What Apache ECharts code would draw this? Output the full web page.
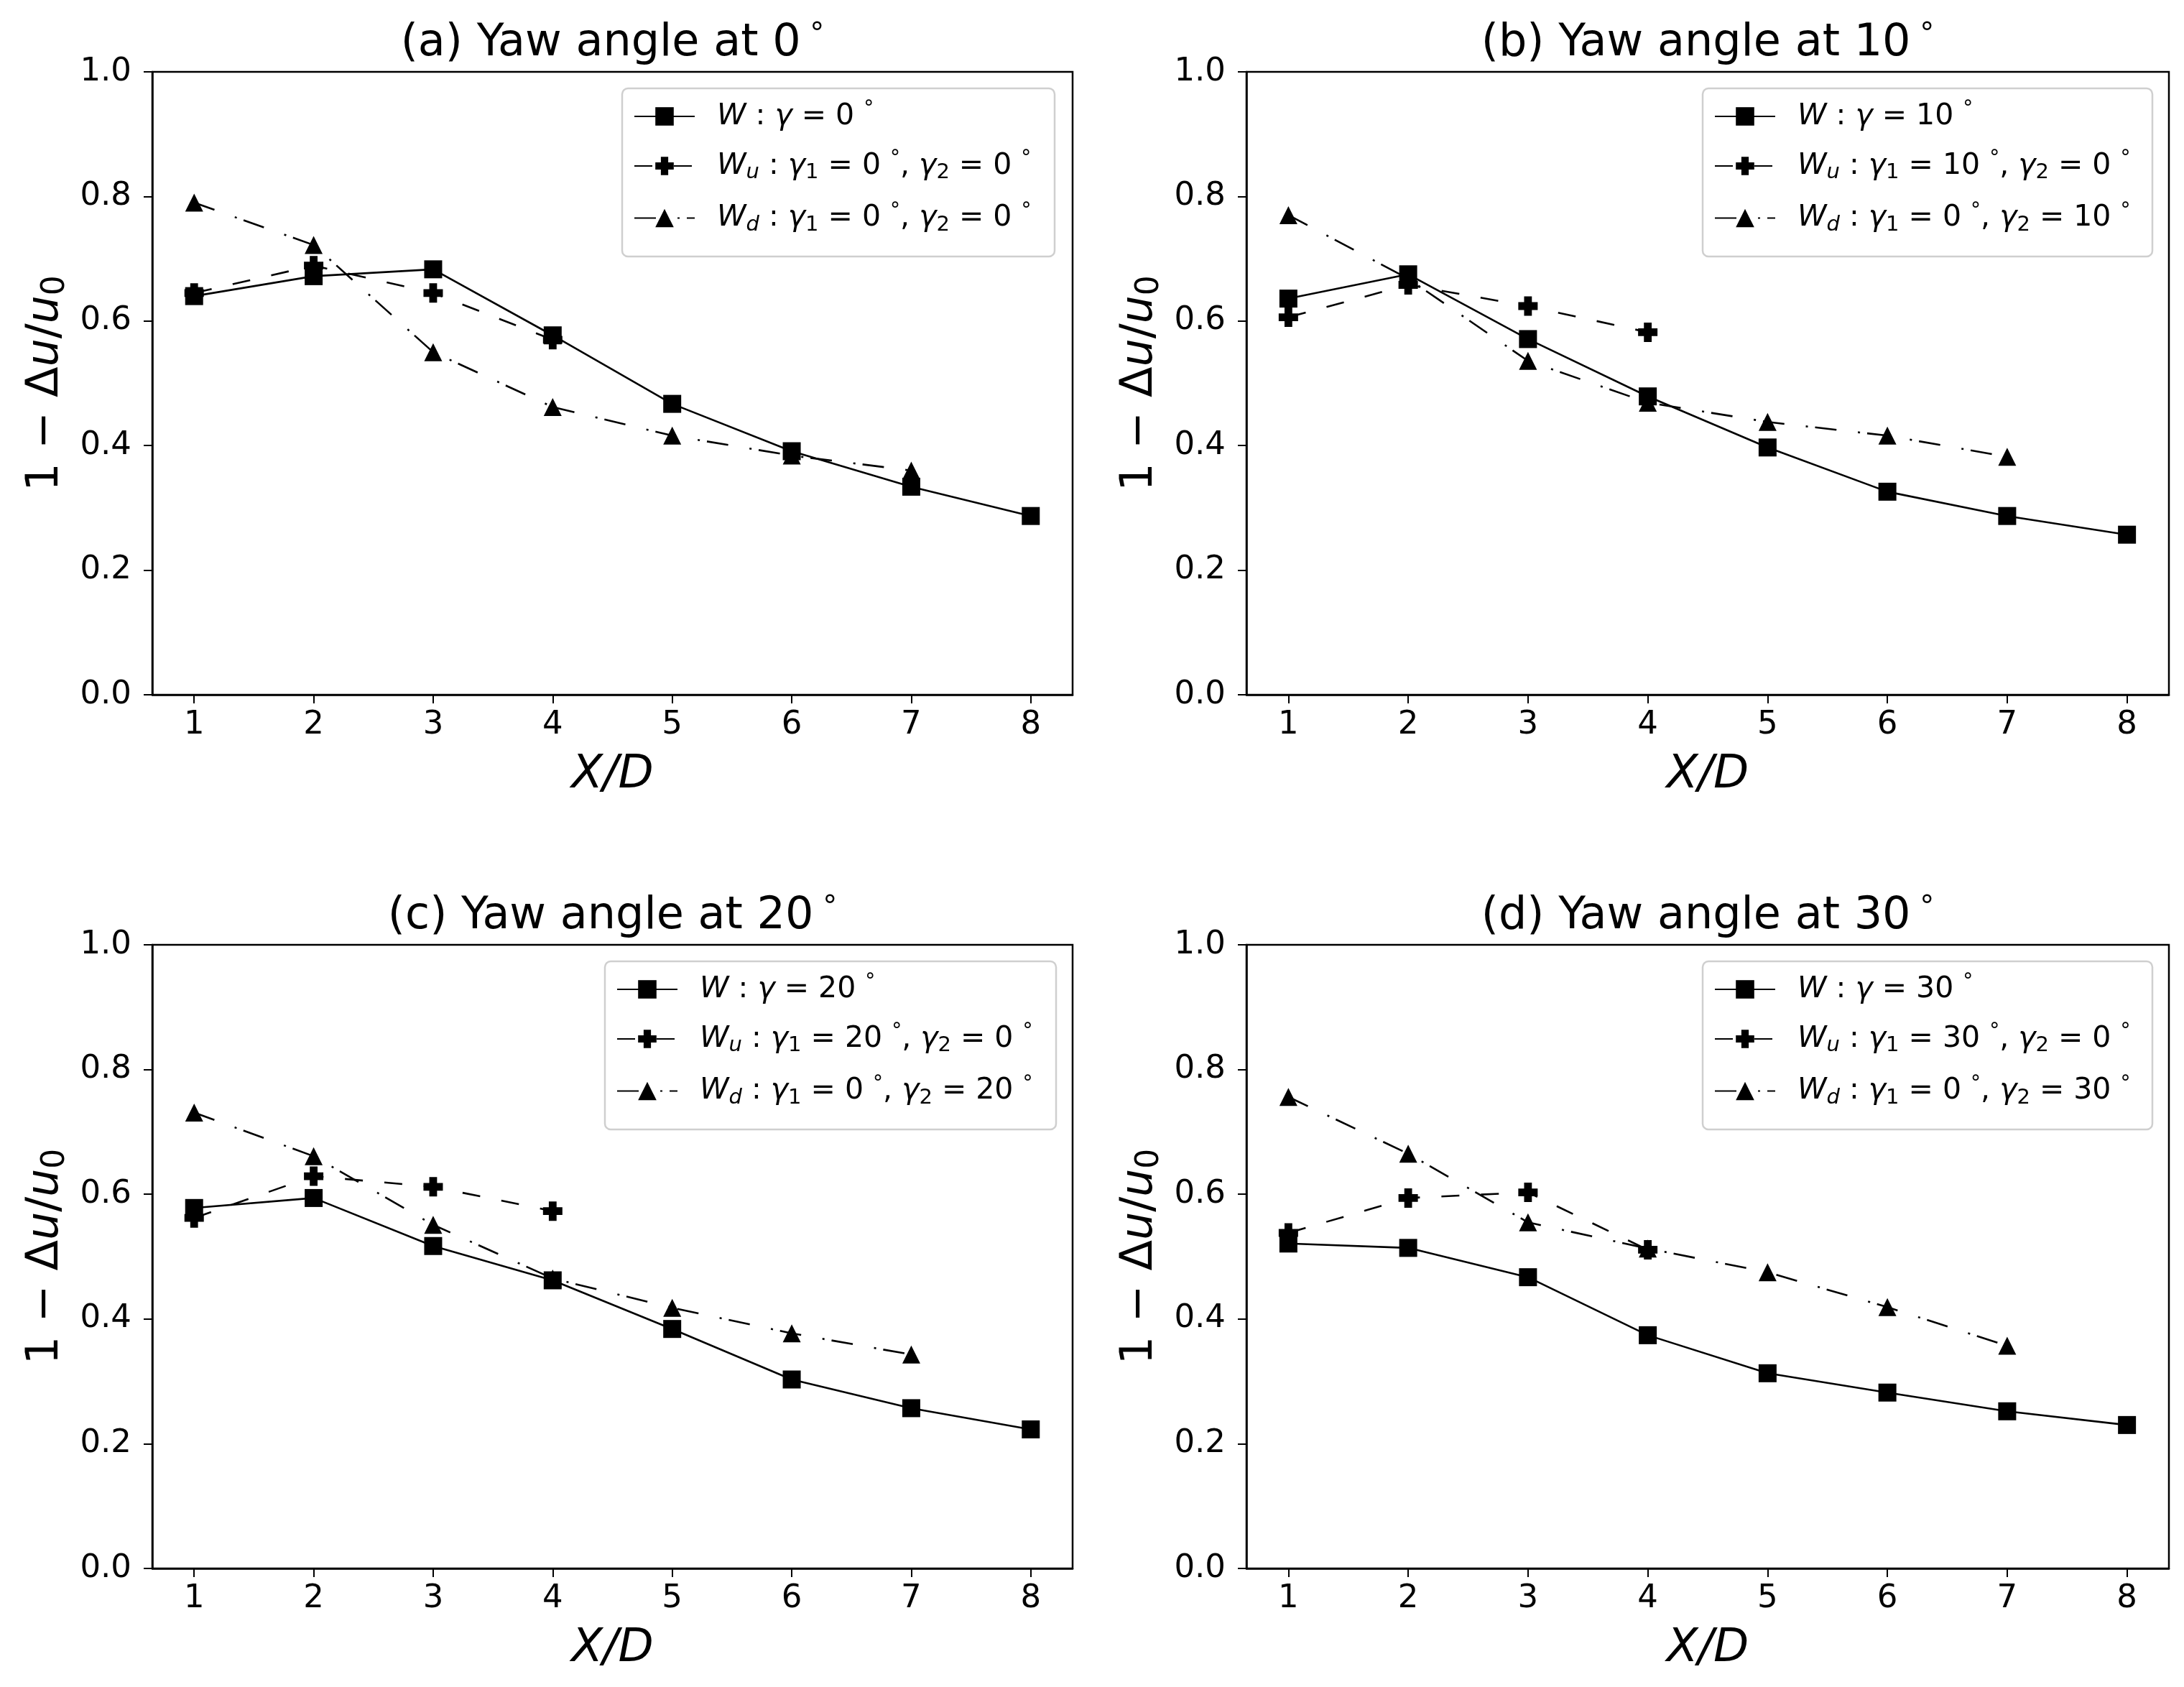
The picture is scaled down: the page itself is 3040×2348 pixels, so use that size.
<!DOCTYPE html>
<html><head><meta charset="utf-8">
<script src="https://cdn.jsdelivr.net/npm/echarts@6/dist/echarts.min.js"></script>
<style>html,body{margin:0;padding:0;background:#fff}#c{width:3040px;height:2348px}</style>
</head><body><div id="c"></div>
<script>
// ---------------- data ----------------
const xPositions = [1, 2, 3, 4, 5, 6, 7, 8];
const xTickLabels = ['1', '2', '3', '4', '5', '6', '7', '8'];
const yTickValues = [0.0, 0.2, 0.4, 0.6, 0.8, 1.0];
const panelLetters = ['a', 'b', 'c', 'd'];
const yawAngles = [0, 10, 20, 30];

const a_W  = [0.640, 0.672, 0.683, 0.577, 0.467, 0.391, 0.334, 0.287];
const a_Wu = [0.645, 0.689, 0.645, 0.570];
const a_Wd = [0.790, 0.722, 0.550, 0.462, 0.416, 0.384, 0.360];

const b_W  = [0.636, 0.675, 0.571, 0.479, 0.397, 0.326, 0.287, 0.257];
const b_Wu = [0.606, 0.658, 0.624, 0.582];
const b_Wd = [0.770, 0.668, 0.536, 0.469, 0.438, 0.416, 0.382];

const c_W  = [0.578, 0.594, 0.517, 0.462, 0.384, 0.303, 0.257, 0.223];
const c_Wu = [0.562, 0.629, 0.612, 0.573];
const c_Wd = [0.731, 0.661, 0.551, 0.465, 0.418, 0.377, 0.343];

const d_W  = [0.521, 0.514, 0.467, 0.374, 0.313, 0.282, 0.252, 0.230];
const d_Wu = [0.538, 0.594, 0.603, 0.511];
const d_Wd = [0.756, 0.665, 0.555, 0.513, 0.475, 0.419, 0.357];

const panelData = [[a_W, a_Wu, a_Wd], [b_W, b_Wu, b_Wd], [c_W, c_Wu, c_Wd], [d_W, d_Wu, d_Wd]];

// ---------------- layout / style ----------------
const F = 'DejaVu Sans';
const grids = [
  {left: 212, top: 100, width: 1281, height: 867},
  {left: 1735, top: 100, width: 1284, height: 867},
  {left: 212, top: 1315, width: 1281, height: 868},
  {left: 1735, top: 1315, width: 1284, height: 868}
];
const legendBoxes = [
  {x: 866, y: 123, w: 602, h: 234},
  {x: 2370, y: 123, w: 626, h: 234},
  {x: 842, y: 1338, w: 628, h: 234},
  {x: 2370, y: 1338, w: 626, h: 234}
];

const LFS = 41;
const legendRich = {
  n:   {fontSize: LFS, fontFamily: F, color: '#000', lineHeight: 48},
  i:   {fontSize: LFS, fontFamily: F, color: '#000', lineHeight: 48, fontStyle: 'italic'},
  sb:  {fontSize: 29, fontFamily: F, color: '#000', lineHeight: 24, verticalAlign: 'bottom'},
  sbi: {fontSize: 29, fontFamily: F, color: '#000', lineHeight: 24, verticalAlign: 'bottom', fontStyle: 'italic'},
  dg:  {fontSize: 28, fontFamily: F, color: '#000', lineHeight: 20, verticalAlign: 'top'},
  sp:  {width: 26, lineHeight: 48, fontSize: LFS}
};

const plusPath = 'path://M3,0H7V3H10V7H7V10H3V7H0V3H3Z';
const dashU = [25, 30];
const dashD = [30, 30, 3, 10];

function deg() { return '{dg|°}'; }

const option = {
  animation: false,
  backgroundColor: '#fff',
  grid: [], xAxis: [], yAxis: [], series: [], legend: [], graphic: []
};

const legendLabels = {};

for (let p = 0; p < 4; p++) {
  const g = grids[p];
  const yaw = yawAngles[p];
  option.grid.push({left: g.left, top: g.top, width: g.width, height: g.height,
    show: true, borderColor: '#000', borderWidth: 2.5, backgroundColor: 'transparent', containLabel: false});
  option.xAxis.push({
    type: 'value', gridIndex: p, min: 0.65, max: 8.35,
    name: 'X/D', nameLocation: 'middle', nameGap: 80,
    nameTextStyle: {fontSize: 64, fontFamily: F, fontStyle: 'italic', color: '#000'},
    axisLine: {show: true, onZero: false, lineStyle: {color: '#000', width: 2.5}},
    axisTick: {show: true, length: 12, lineStyle: {color: '#000', width: 2}, customValues: xPositions},
    axisLabel: {show: true, fontSize: 45, fontFamily: F, color: '#000', margin: 20,
      customValues: xPositions, formatter: v => xTickLabels[xPositions.indexOf(v)] ?? String(v)},
    splitLine: {show: false}
  });
  option.yAxis.push({
    type: 'value', gridIndex: p, min: 0, max: 1, interval: 0.2,
    name: '{n|1 − Δ}{i|u}{n|/}{i|u}{sb|0}', nameLocation: 'middle', nameGap: 112, nameRotate: 90,
    nameTextStyle: {fontSize: 62, fontFamily: F, color: '#000', rich: {
      n: {fontSize: 62, fontFamily: F, color: '#000', lineHeight: 72},
      i: {fontSize: 62, fontFamily: F, color: '#000', lineHeight: 72, fontStyle: 'italic'},
      sb: {fontSize: 44, fontFamily: F, color: '#000', lineHeight: 36, verticalAlign: 'bottom'}
    }},
    axisLine: {show: true, lineStyle: {color: '#000', width: 2.5}},
    axisTick: {show: true, length: 12, lineStyle: {color: '#000', width: 2}},
    axisLabel: {show: true, fontSize: 45, fontFamily: F, color: '#000', margin: 29,
      formatter: v => Number(v).toFixed(1)},
    splitLine: {show: false}
  });

  const [wArr, uArr, dArr] = panelData[p];
  const toPts = arr => arr.map((v, i) => [xPositions[i], v]);
  const nW = 'W_' + p, nU = 'Wu_' + p, nD = 'Wd_' + p;
  legendLabels[nW] = '{sp| }{i|W}{n| : }{i|γ}{n| = ' + yaw + ' }' + deg();
  legendLabels[nU] = '{sp| }{i|W}{sbi|u}{n| : }{i|γ}{sb|1}{n| = ' + yaw + ' }' + deg() + '{n|, }{i|γ}{sb|2}{n| = 0 }' + deg();
  legendLabels[nD] = '{sp| }{i|W}{sbi|d}{n| : }{i|γ}{sb|1}{n| = 0 }' + deg() + '{n|, }{i|γ}{sb|2}{n| = ' + yaw + ' }' + deg();

  option.series.push({
    name: nW, type: 'line', xAxisIndex: p, yAxisIndex: p, data: toPts(wArr),
    symbol: 'rect', symbolSize: 25, showSymbol: true,
    lineStyle: {color: '#000', width: 2.6, type: 'solid'}, itemStyle: {color: '#000'}, z: 2
  });
  option.series.push({
    name: nU, type: 'line', xAxisIndex: p, yAxisIndex: p, data: toPts(uArr),
    symbol: plusPath, symbolSize: 27, showSymbol: true,
    lineStyle: {color: '#000', width: 2.6, type: dashU}, itemStyle: {color: '#000'}, z: 2
  });
  option.series.push({
    name: nD, type: 'line', xAxisIndex: p, yAxisIndex: p, data: toPts(dArr),
    symbol: 'triangle', symbolSize: 25, showSymbol: true,
    lineStyle: {color: '#000', width: 2.6, type: dashD}, itemStyle: {color: '#000'}, z: 2
  });

  const lb = legendBoxes[p];
  option.legend.push({
    data: [nW, nU, nD], orient: 'vertical', left: lb.x + 16, top: lb.y + 15, padding: 0,
    itemGap: 24.5, itemWidth: 84, itemHeight: 32, selectedMode: false,
    formatter: name => legendLabels[name],
    textStyle: {fontSize: LFS, fontFamily: F, color: '#000', rich: legendRich},
    z: 6
  });
  option.graphic.push({
    type: 'rect', z: 5, silent: true,
    shape: {x: lb.x, y: lb.y, width: lb.w, height: lb.h, r: 8},
    style: {fill: '#fff', stroke: '#cfcfcf', lineWidth: 2.5}
  });
  option.graphic.push({
    type: 'text', z: 6, silent: true,
    x: g.left + g.width / 2, y: g.top - 39,
    style: {
      text: '(' + panelLetters[p] + ') Yaw angle at ' + yaw + '{dg| °}',
      fontSize: 62, fontFamily: F, fill: '#000',
      align: 'center', verticalAlign: 'middle', textAlign: 'center', textVerticalAlign: 'middle',
      rich: {dg: {fontSize: 40, fontFamily: F, fill: '#000', lineHeight: 30, verticalAlign: 'top'}}
    }
  });
}

const chart = echarts.init(document.getElementById('c'), null, {renderer: 'canvas', width: 3040, height: 2348});
chart.setOption(option);
</script>
</body></html>
